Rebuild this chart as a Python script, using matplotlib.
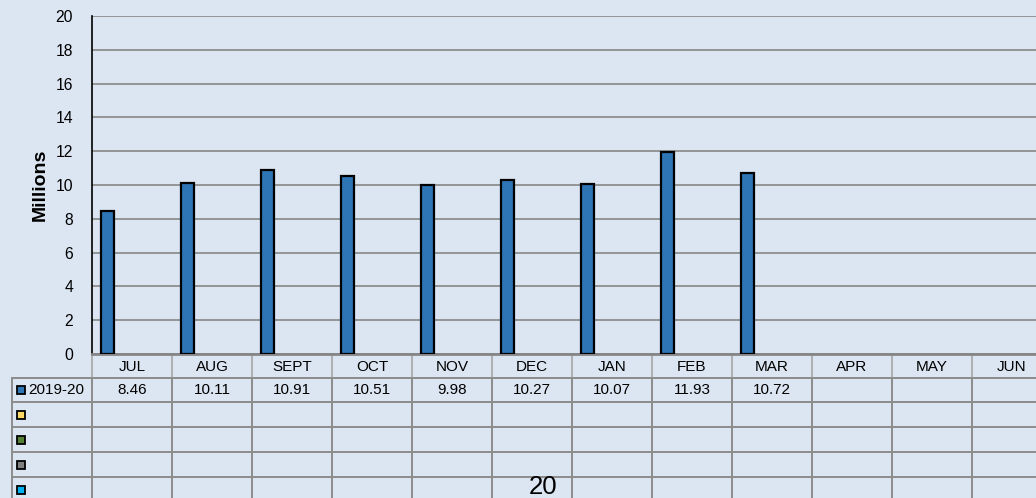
import matplotlib
matplotlib.use("Agg")
import matplotlib.pyplot as plt
import matplotlib.transforms as mtransforms
from matplotlib.patches import Rectangle

plt.rcParams['font.family'] = ['Liberation Sans', 'DejaVu Sans']

# ---- data ----
months = ["JUL", "AUG", "SEPT", "OCT", "NOV", "DEC", "JAN", "FEB", "MAR", "APR", "MAY", "JUN"]
series_names = ["2019-20", "", "", "", ""]
series_colors = ["#2E75B6", "#FFD966", "#548235", "#7F7F7F", "#00B0F0"]
values_2019_20 = [8.46, 10.11, 10.91, 10.51, 9.98, 10.27, 10.07, 11.93, 10.72, None, None, None]
series_values = [values_2019_20, [None] * 12, [None] * 12, [None] * 12, [None] * 12]
y_ticks = [0, 2, 4, 6, 8, 10, 12, 14, 16, 18, 20]
page_number = "20"

BG = "#DCE6F2"
GRID = "#868686"
W, H = 1036, 498
FS = 11

fig = plt.figure(figsize=(W / 100, H / 100), dpi=100, facecolor=BG)

# overlay in pixel coordinates (y downward) for the data table
over = fig.add_axes([0, 0, 1, 1], zorder=0)
over.set_xlim(0, W)
over.set_ylim(H, 0)
over.axis("off")

# plot area
left, right, top, bottom = 92, 1052, 16, 354
ax = fig.add_axes([left / W, (H - bottom) / H, (right - left) / W, (bottom - top) / H], zorder=1)
ax.set_facecolor("none")

n_series = len(series_names)
gap = 1.5
bw = 1.0 / (n_series + gap)
xs = list(range(len(months)))
for s, (vals, col) in enumerate(zip(series_values, series_colors)):
    offs = -0.5 + gap * bw / 2 + bw * (s + 0.5)
    px, ph = [], []
    for i, v in zip(xs, vals):
        if v is not None:
            px.append(i + offs)
            ph.append(v)
    if px:
        ax.bar(px, ph, width=bw, color=col, edgecolor="black", linewidth=1.6, zorder=3)

ax.set_xlim(-0.5, len(months) - 0.5)
ax.set_ylim(0, 20)
ax.set_yticks(y_ticks)
ax.set_yticklabels([str(t) for t in y_ticks], fontsize=11.3)
ax.tick_params(axis="y", length=0, pad=13.5)
ax.set_xticks([])
ax.yaxis.grid(True, color=GRID, linewidth=1.2, zorder=0)
ax.set_axisbelow(True)
for sp in ["top", "right"]:
    ax.spines[sp].set_visible(False)
ax.spines["left"].set_color("black")
ax.spines["left"].set_linewidth(1.2)
ax.spines["bottom"].set_color(GRID)
ax.spines["bottom"].set_linewidth(2)

fig.text(40 / W, 1 - 185 / H, "Millions", rotation=90, fontsize=14, fontweight="bold",
         ha="center", va="center")

# ---- data table below the axis ----
tr = mtransforms.blended_transform_factory(ax.transData, over.transData)
header_top, header_bot = 355, 377.5
row_h = 24.9
n_rows = len(series_names)
row_edges = [header_bot + k * row_h for k in range(n_rows + 1)]
TLINE = "#8C8C8C"

# horizontal lines
for yk in row_edges:
    over.plot([12, right], [yk, yk], color=TLINE, lw=1.4, zorder=2)
over.plot([12, 12], [header_bot, row_edges[-1]], color=TLINE, lw=1.4, zorder=2)

# vertical lines between month columns
for i in range(len(months) + 1):
    xb = i - 0.5
    over.plot([xb, xb], [header_top, header_bot], color="#A6A6A6", lw=1.2, transform=tr, zorder=2)
    over.plot([xb, xb], [header_bot, row_edges[-1]], color=TLINE, lw=1.4, transform=tr, zorder=2)

for i, m in enumerate(months):
    over.text(i, (header_top + header_bot) / 2 + 1, m, transform=tr, ha="center", va="center", fontsize=FS)

for s, (name, col, vals) in enumerate(zip(series_names, series_colors, series_values)):
    yc = (row_edges[s] + row_edges[s + 1]) / 2
    over.add_patch(Rectangle((16.5, yc - 4), 8, 8, facecolor=col, edgecolor="black", lw=1.3, zorder=3))
    if name:
        over.text(28.5, yc + 0.5, name, ha="left", va="center", fontsize=FS)
    for i, v in zip(xs, vals):
        if v is not None:
            over.text(i, yc + 0.5, f"{v:.2f}", transform=tr, ha="center", va="center", fontsize=FS)

fig.text(543 / W, 1 - 487 / H, page_number, fontsize=18.5, ha="center", va="center", zorder=5)

fig.savefig("out.png", dpi=100, facecolor=BG)
